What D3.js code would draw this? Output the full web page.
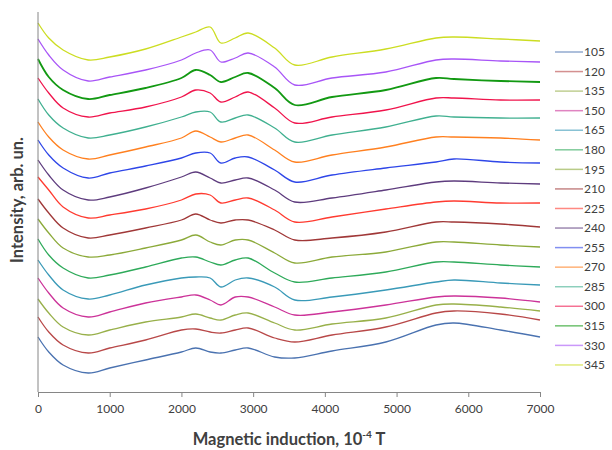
<!DOCTYPE html>
<html lang="en">
<head>
  <meta charset="UTF-8" />
  <title>Intensity vs magnetic induction</title>
  <script src="https://d3js.org/d3.v7.min.js"></script>
  <style>
    body { margin: 0; background: #fff; }
    svg text { font-family: Lato, "Open Sans", sans-serif; fill: #404040; }
  </style>
</head>
<body>
<div id="chart"></div>
<script>
  // field values (10^-4 T) where the curves were read
  var fieldX = [0, 150, 350, 700, 1000, 1500, 2000, 2200, 2400, 2550, 2750, 2930, 3300, 3580, 4100, 4850, 5550, 5800, 6450, 7000];
  var xTicks = [0, 1000, 2000, 3000, 4000, 5000, 6000, 7000];

  // intensity, arb. units (curves already offset as in the figure)
  var s105 = [55, 40, 27, 19, 24, 32, 40, 44, 40, 39, 42, 44, 35, 34, 41, 50, 67, 69, 62, 55];
  var s120 = [75, 60, 47, 39, 44, 52, 62, 63, 60, 59, 62, 64, 54, 50, 57, 65, 79, 81, 78, 72];
  var s135 = [93, 79, 65, 57, 62, 70, 75, 78, 74, 72, 77, 79, 69, 62, 68, 74, 87, 88, 85, 81];
  var s150 = [114, 99, 84, 75, 80, 89, 95, 97, 92, 87, 95, 95, 85, 77, 80, 87, 95, 96, 94, 90];
  var s165 = [132, 117, 102, 93, 97, 107, 114, 115, 114, 105, 112, 114, 105, 92, 95, 102, 110, 112, 109, 107];
  var s180 = [153, 137, 124, 114, 117, 125, 134, 135, 130, 127, 132, 134, 119, 110, 114, 120, 130, 130, 127, 125];
  var s195 = [173, 159, 144, 135, 137, 144, 152, 157, 150, 147, 152, 152, 139, 129, 135, 140, 150, 150, 147, 145];
  var s210 = [193, 179, 164, 154, 157, 164, 172, 178, 172, 169, 172, 172, 162, 152, 154, 160, 170, 170, 168, 165];
  var s225 = [215, 202, 185, 174, 177, 183, 192, 198, 197, 189, 192, 194, 182, 170, 175, 183, 190, 191, 189, 189];
  var s240 = [232, 217, 202, 192, 195, 204, 215, 220, 214, 209, 212, 214, 202, 190, 194, 202, 210, 211, 209, 208];
  var s255 = [252, 237, 224, 214, 219, 226, 234, 239, 239, 229, 234, 235, 222, 210, 217, 224, 230, 233, 230, 229];
  var s270 = [270, 255, 242, 233, 237, 245, 254, 261, 255, 250, 254, 257, 242, 230, 237, 245, 255, 255, 254, 252];
  var s285 = [293, 277, 264, 254, 257, 265, 275, 280, 280, 270, 274, 277, 264, 250, 257, 265, 276, 275, 274, 274];
  var s300 = [314, 299, 284, 275, 279, 285, 295, 302, 299, 290, 295, 300, 284, 269, 275, 282, 294, 294, 292, 292];
  var s315 = [333, 315, 302, 293, 297, 304, 314, 322, 317, 310, 315, 319, 304, 287, 295, 302, 314, 313, 311, 310];
  var s330 = [353, 337, 322, 311, 315, 322, 332, 339, 342, 330, 334, 339, 325, 307, 314, 320, 332, 333, 331, 330];
  var s345 = [369, 354, 342, 332, 335, 343, 355, 360, 365, 349, 354, 359, 344, 327, 335, 343, 354, 355, 353, 351];

  var names = ["105", "120", "135", "150", "165", "180", "195", "210", "225", "240", "255", "270", "285", "300", "315", "330", "345"];
  var colors = ["#4a72b0", "#b84848", "#98b04a", "#cc3399", "#3a9ab8", "#2eaa5a", "#8caa3a", "#a03838", "#ff3b30",
                "#5e3c7e", "#2e46e8", "#ff8020", "#40b090", "#f0144c", "#129912", "#a855f7", "#ccdd22"];

  var allSeries = [s105, s120, s135, s150, s165, s180, s195, s210, s225, s240, s255, s270, s285, s300, s315, s330, s345];

  var w = 612;
  var h = 450;

  var svg = d3.select("#chart").append("svg")
    .attr("width", w)
    .attr("height", h);

  var x = d3.scaleLinear().domain([0, 7000]).range([38, 540]);
  var y = d3.scaleLinear().domain([0, 380]).range([392, 12]);

  var line = d3.line()
    .x(function(d, i) { return x(fieldX[i]); })
    .y(function(d) { return y(d); })
    .curve(d3.curveCatmullRom.alpha(0.5));

  // curves, bottom one drawn first
  svg.selectAll("path.curve")
    .data(allSeries)
    .enter()
    .append("path")
    .attr("class", "curve")
    .attr("d", line)
    .attr("fill", "none")
    .attr("stroke", function(d, i) { return colors[i]; })
    .attr("stroke-width", function(d, i) { return names[i] == "315" ? 1.8 : 1.3; })
    .attr("stroke-linejoin", "round");

  // axes
  svg.append("line")
    .attr("x1", 38).attr("x2", 38)
    .attr("y1", 12).attr("y2", 392)
    .attr("stroke", "#868686");

  var xAxis = d3.axisBottom(x)
    .tickValues(xTicks)
    .tickSize(5)
    .tickSizeOuter(0)
    .tickFormat(d3.format("d"));

  var gx = svg.append("g")
    .attr("transform", "translate(0,392)")
    .call(xAxis);
  gx.select(".domain").attr("stroke", "#868686");
  gx.selectAll(".tick line").attr("stroke", "#868686");
  gx.selectAll(".tick text")
    .attr("dy", "1.1em")
    .style("font-size", "12px")
    .style("font-family", "Lato, sans-serif")
    .attr("fill", "#404040");

  // axis titles
  var xt = svg.append("text")
    .attr("x", 289)
    .attr("y", 445)
    .attr("text-anchor", "middle")
    .style("font-size", "16.5px")
    .style("font-weight", "bold")
    .attr("fill", "#000");
  xt.append("tspan").text("Magnetic induction, 10");
  xt.append("tspan").attr("dy", -7).style("font-size", "10px").text("-4");
  xt.append("tspan").attr("dy", 7).text(" T");

  svg.append("text")
    .attr("transform", "translate(23,200) rotate(-90)")
    .attr("text-anchor", "middle")
    .style("font-size", "16.5px")
    .style("font-weight", "bold")
    .attr("fill", "#000")
    .text("Intensity, arb. un.");

  // legend
  var legend = svg.selectAll("g.leg")
    .data(names)
    .enter()
    .append("g")
    .attr("class", "leg")
    .attr("transform", function(d, i) { return "translate(555," + (52 + i * 19.56) + ")"; });

  legend.append("line")
    .attr("x1", 0).attr("x2", 28)
    .attr("stroke", function(d, i) { return colors[i]; })
    .attr("stroke-width", 1.5)
    .style("opacity", .6);

  legend.append("text")
    .attr("x", 29)
    .attr("dy", "0.35em")
    .style("font-size", "12px")
    .text(function(d) { return d; });
</script>
</body>
</html>
